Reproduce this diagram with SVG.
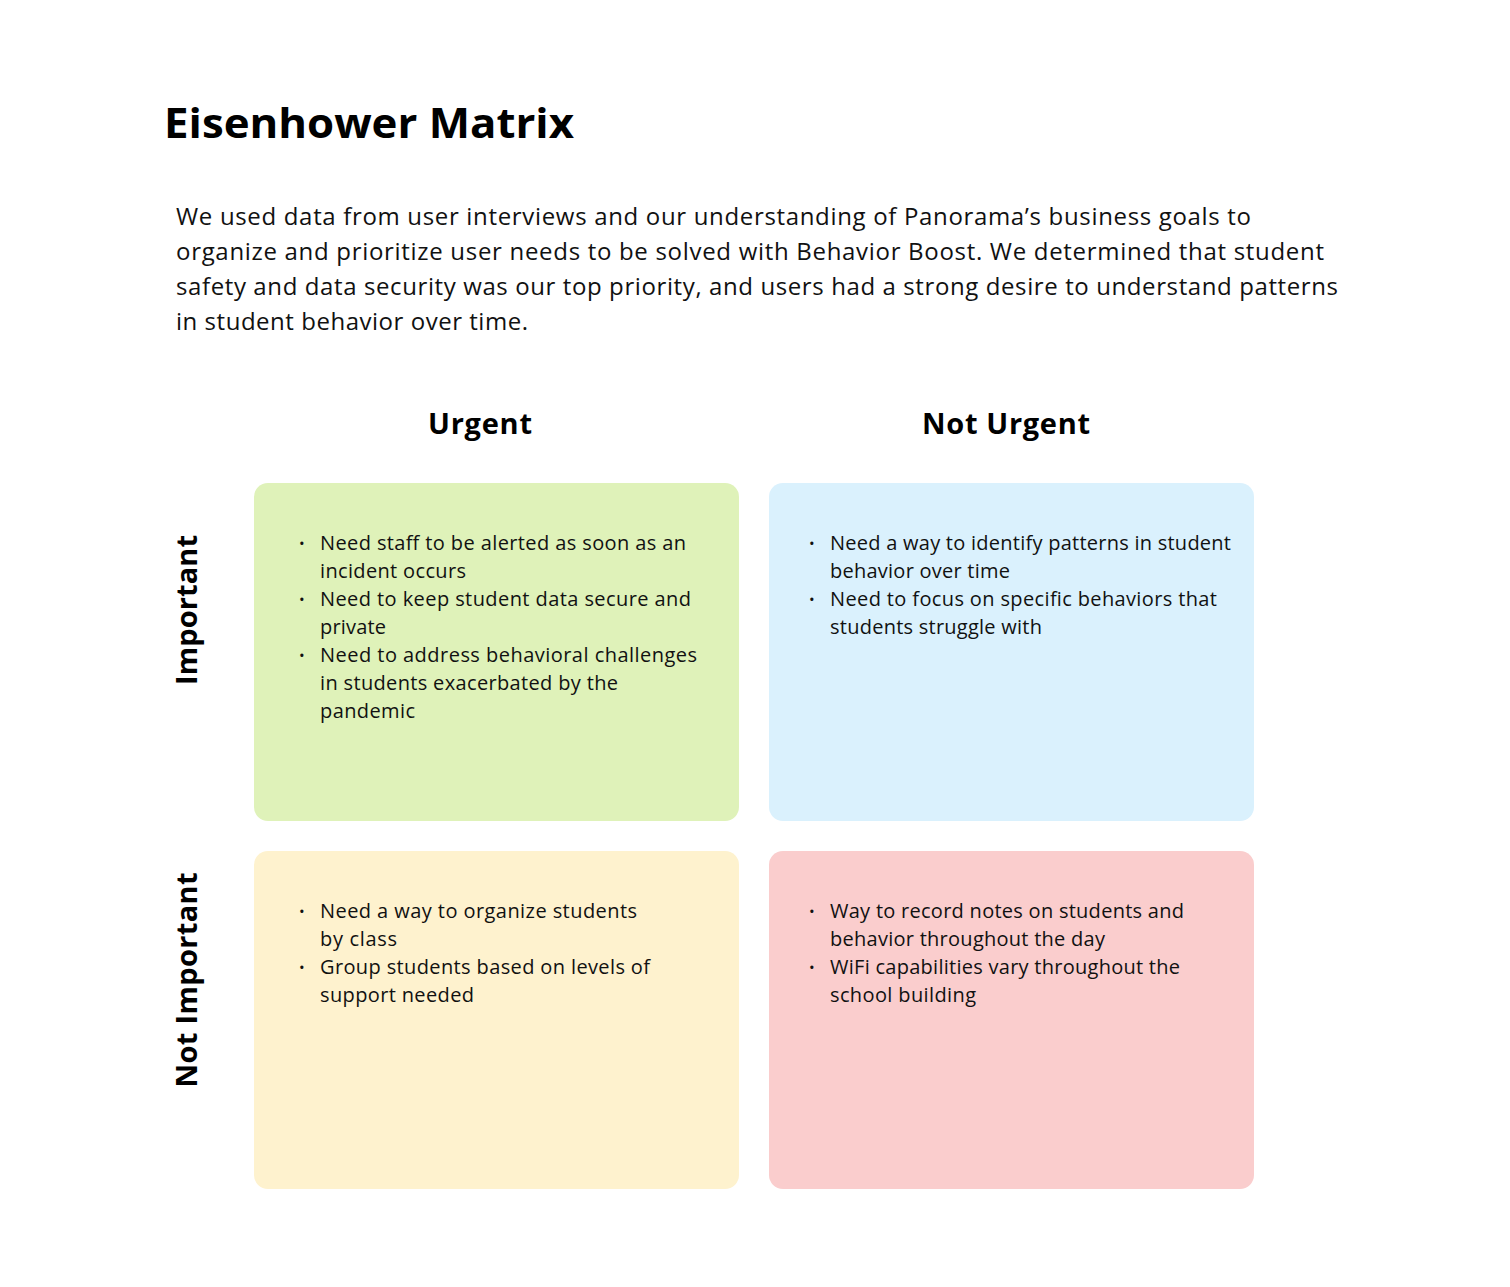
<svg xmlns="http://www.w3.org/2000/svg" width="1510" height="1287" viewBox="0 0 1510 1287">
<style>
text{font-family:"Open Sans","Noto Sans",sans-serif;fill:#000}
.t{font-size:42px;font-weight:700}
.p{font-size:24px;fill:#111}
.h{font-size:29px;font-weight:700;text-anchor:middle}
.b{font-size:20px;fill:#111}
.d{font-size:15px;fill:#111}
</style>
<rect width="1510" height="1287" fill="#fff"/>
<text class="t" x="164" y="138" textLength="410" lengthAdjust="spacingAndGlyphs">Eisenhower Matrix</text>
<g id="intro">
<text class="p" x="176" y="225" textLength="1075">We used data from user interviews and our understanding of Panorama’s business goals to</text>
<text class="p" x="176" y="260" textLength="1148">organize and prioritize user needs to be solved with Behavior Boost. We determined that student</text>
<text class="p" x="176" y="295" textLength="1162">safety and data security was our top priority, and users had a strong desire to understand patterns</text>
<text class="p" x="176" y="330" textLength="352">in student behavior over time.</text>
</g>
<g id="header-urgent"><text class="h" x="480" y="434" textLength="104">Urgent</text></g>
<g id="header-not-urgent"><text class="h" x="1006" y="434" textLength="168">Not Urgent</text></g>
<g id="label-important"><text class="h" transform="translate(197,610) rotate(-90)" textLength="150">Important</text></g>
<g id="label-not-important"><text class="h" transform="translate(197,980) rotate(-90)" textLength="215">Not Important</text></g>
<g id="q1">
<rect x="254" y="483" width="485" height="338" rx="14" fill="#DFF2B9"/>
<text class="d" x="299" y="549">•</text><text class="b" x="320" y="550" textLength="366">Need staff to be alerted as soon as an</text>
<text class="b" x="320" y="578" textLength="146">incident occurs</text>
<text class="d" x="299" y="605">•</text><text class="b" x="320" y="606" textLength="371">Need to keep student data secure and</text>
<text class="b" x="320" y="634" textLength="66">private</text>
<text class="d" x="299" y="661">•</text><text class="b" x="320" y="662" textLength="377">Need to address behavioral challenges</text>
<text class="b" x="320" y="690" textLength="298">in students exacerbated by the</text>
<text class="b" x="320" y="718" textLength="95">pandemic</text>
</g>
<g id="q2">
<rect x="769" y="483" width="485" height="338" rx="14" fill="#DAF1FD"/>
<text class="d" x="809" y="549">•</text><text class="b" x="830" y="550" textLength="401">Need a way to identify patterns in student</text>
<text class="b" x="830" y="578" textLength="180">behavior over time</text>
<text class="d" x="809" y="605">•</text><text class="b" x="830" y="606" textLength="387">Need to focus on specific behaviors that</text>
<text class="b" x="830" y="634" textLength="212">students struggle with</text>
</g>
<g id="q3">
<rect x="254" y="851" width="485" height="338" rx="14" fill="#FEF2CE"/>
<text class="d" x="299" y="917">•</text><text class="b" x="320" y="918" textLength="317">Need a way to organize students</text>
<text class="b" x="320" y="946" textLength="77">by class</text>
<text class="d" x="299" y="973">•</text><text class="b" x="320" y="974" textLength="330">Group students based on levels of</text>
<text class="b" x="320" y="1002" textLength="154">support needed</text>
</g>
<g id="q4">
<rect x="769" y="851" width="485" height="338" rx="14" fill="#FACDCD"/>
<text class="d" x="809" y="917">•</text><text class="b" x="830" y="918" textLength="354">Way to record notes on students and</text>
<text class="b" x="830" y="946" textLength="275">behavior throughout the day</text>
<text class="d" x="809" y="973">•</text><text class="b" x="830" y="974" textLength="350">WiFi capabilities vary throughout the</text>
<text class="b" x="830" y="1002" textLength="146">school building</text>
</g>
<g id="connectors"/>
</svg>
